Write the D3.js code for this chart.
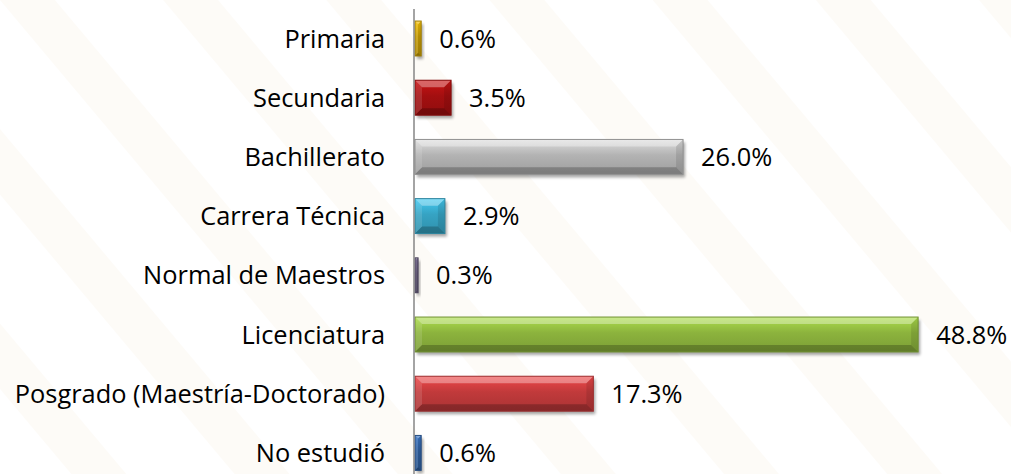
<!DOCTYPE html>
<html>
<head>
<meta charset="utf-8">
<script src="https://cdn.jsdelivr.net/npm/d3@7"></script>
<style>
  body { margin: 0; background: #fff; }
  svg text { font-family: "Open Sans", sans-serif; fill: #000; }
</style>
</head>
<body>
<div class="chart"></div>
<script>
// categories (top to bottom) and their shares in %
const categories = ["Primaria", "Secundaria", "Bachillerato", "Carrera Técnica",
  "Normal de Maestros", "Licenciatura", "Posgrado (Maestría-Doctorado)", "No estudió"];
const values = [0.6, 3.5, 26.0, 2.9, 0.3, 48.8, 17.3, 0.6];
const barColors = ["#c69c06", "#a30f10", "#b3b3b3", "#36a3c3", "#5f5674", "#8cb33d", "#c13a3b", "#2f5f9f"];

const width = 1011;
const height = 474;

const svg = d3.select(".chart")
  .append("svg")
    .attr("width", width)
    .attr("height", height);

const defs = svg.append("defs");

// faint watermark stripes in the background
const pat = defs.append("pattern")
  .attr("id", "stripes")
  .attr("patternUnits", "userSpaceOnUse")
  .attr("width", 125)
  .attr("height", 10)
  .attr("patternTransform", "rotate(-40)");
pat.append("rect")
  .attr("x", 0).attr("y", 0)
  .attr("width", 42).attr("height", 10)
  .attr("fill", "#f8f1e5");

svg.append("rect")
  .attr("width", width)
  .attr("height", height)
  .attr("fill", "url(#stripes)")
  .attr("opacity", 0.32);

// drop shadow for bars
const shadow = defs.append("filter")
  .attr("id", "shadow")
  .attr("x", "-20%").attr("y", "-30%")
  .attr("width", "140%").attr("height", "180%");
shadow.append("feGaussianBlur").attr("stdDeviation", 1.8);

// one vertical gradient per bar colour
barColors.forEach((c, i) => {
  const g = defs.append("linearGradient")
    .attr("id", "grad" + i)
    .attr("x1", 0).attr("y1", 0).attr("x2", 0).attr("y2", 1);
  g.append("stop").attr("offset", "0%").attr("stop-color", d3.color(c).brighter(0.6));
  g.append("stop").attr("offset", "45%").attr("stop-color", c);
  g.append("stop").attr("offset", "100%").attr("stop-color", d3.color(c).darker(0.35));
});

// scales
const x = d3.scaleLinear()
  .domain([0, 50])
  .range([414, 929.5]);

const y = d3.scaleBand()
  .domain(categories)
  .range([8.9, 482.5])
  .paddingInner(0.41)
  .paddingOuter(0.205);

// category labels
svg.append("g")
  .selectAll("text")
  .data(categories)
  .enter()
  .append("text")
    .attr("x", 385)
    .attr("y", d => y(d) + y.bandwidth() / 2)
    .attr("dy", "0.36em")
    .attr("text-anchor", "end")
    .style("font-size", "25.4px")
    .text(d => d);

// bars
const data = categories.map((c, i) => ({cat: c, value: values[i], i: i}));

const bars = svg.append("g")
  .selectAll("g")
  .data(data)
  .enter()
  .append("g");

bars.append("rect")
  .attr("x", x(0) + 3)
  .attr("y", d => y(d.cat) + 3)
  .attr("width", d => x(d.value) - x(0))
  .attr("height", y.bandwidth())
  .attr("fill", "#000")
  .attr("opacity", 0.35)
  .attr("filter", "url(#shadow)");

bars.append("rect")
  .attr("x", x(0) + 1)
  .attr("y", d => y(d.cat))
  .attr("width", d => x(d.value) - x(0))
  .attr("height", y.bandwidth())
  .attr("fill", d => `url(#grad${d.i})`);

// bevel edges
function bevel(d, side) {
  const x0 = x(0) + 1, x1 = x(d.value) + 1;
  const y0 = y(d.cat), y1 = y0 + y.bandwidth();
  const b = Math.min(7, (x1 - x0) / 2, (y1 - y0) / 2);
  const pts = {
    top: [[x0, y0], [x1, y0], [x1 - b, y0 + b], [x0 + b, y0 + b]],
    bottom: [[x0, y1], [x1, y1], [x1 - b, y1 - b], [x0 + b, y1 - b]],
    left: [[x0, y0], [x0 + b, y0 + b], [x0 + b, y1 - b], [x0, y1]],
    right: [[x1, y0], [x1 - b, y0 + b], [x1 - b, y1 - b], [x1, y1]]
  };
  return "M" + pts[side].join("L") + "Z";
}

const bevelStyle = {top: ["#fff", 0.35], bottom: ["#000", 0.22], left: ["#fff", 0.12], right: ["#000", 0.1]};
Object.keys(bevelStyle).forEach(side => {
  bars.append("path")
    .attr("d", d => bevel(d, side))
    .attr("fill", bevelStyle[side][0])
    .attr("opacity", bevelStyle[side][1]);
});

bars.append("rect")
  .attr("x", x(0) + 1)
  .attr("y", d => y(d.cat))
  .attr("width", d => x(d.value) - x(0))
  .attr("height", y.bandwidth())
  .attr("fill", "none")
  .attr("stroke", d => d3.color(barColors[d.i]).darker(0.6))
  .attr("stroke-width", 1);

// value labels
bars.append("text")
  .attr("x", d => x(d.value) + 19)
  .attr("y", d => y(d.cat) + y.bandwidth() / 2)
  .attr("dy", "0.36em")
  .style("font-size", "25.4px")
  .text(d => d.value.toFixed(1) + "%");

// vertical axis line
svg.append("line")
  .attr("x1", x(0)).attr("x2", x(0))
  .attr("y1", y.range()[0]).attr("y2", y.range()[1])
  .attr("stroke", "#868686")
  .attr("stroke-width", 1.5);
</script>
</body>
</html>
